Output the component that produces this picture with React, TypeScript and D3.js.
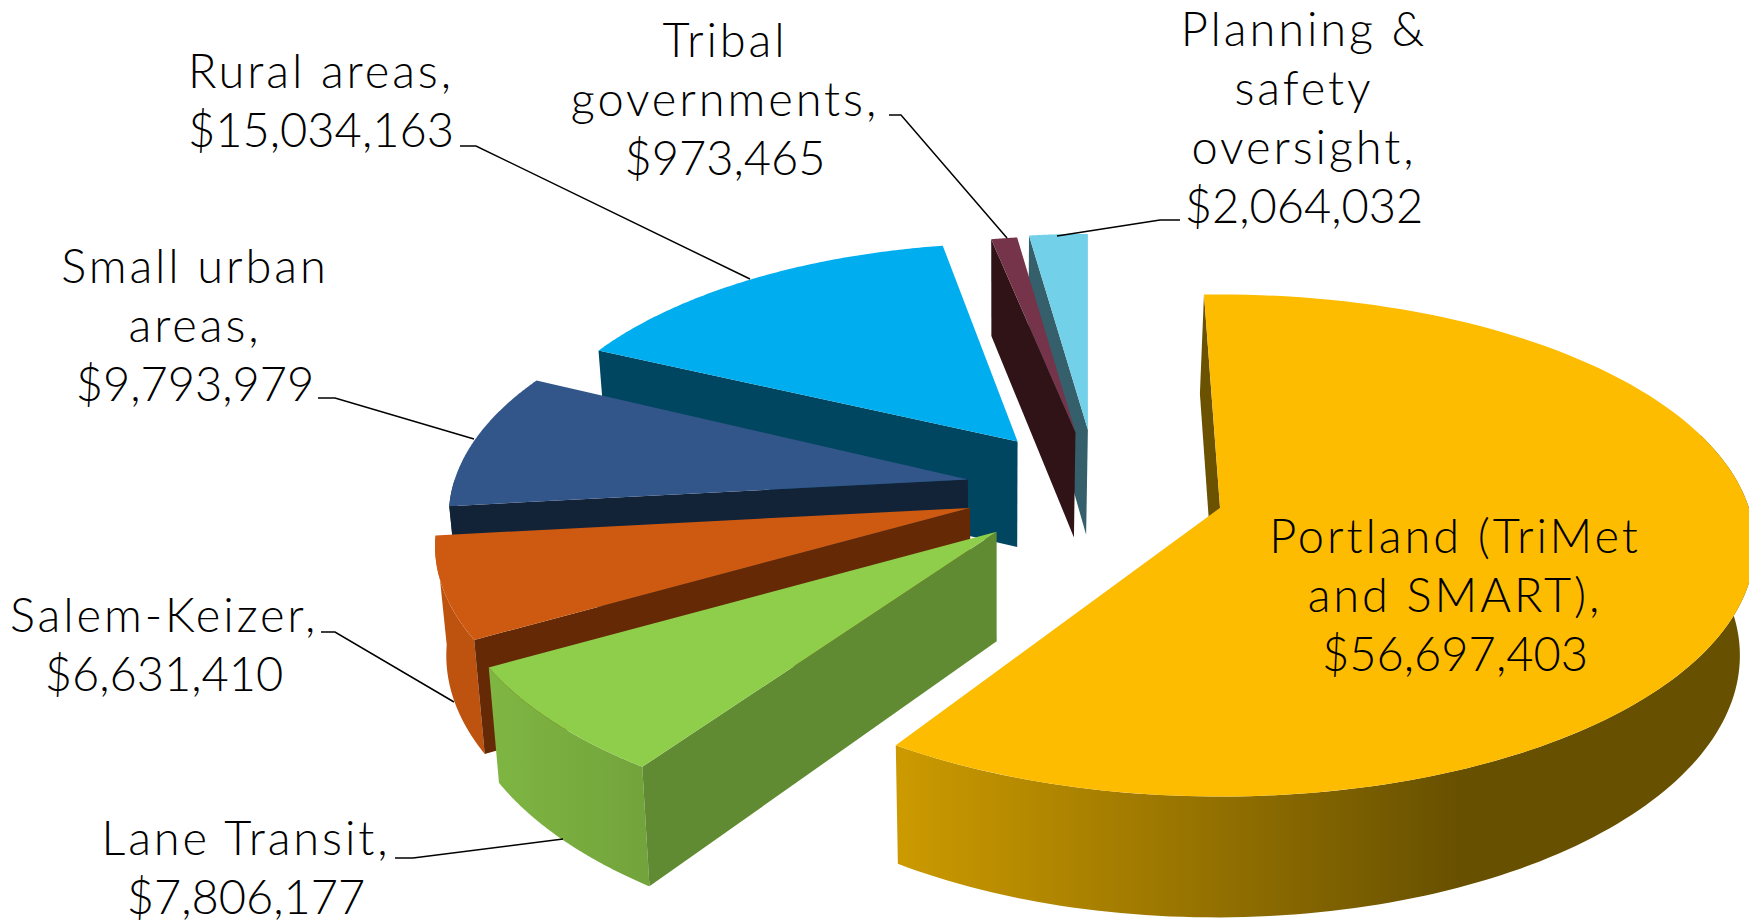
import React from "react";
import * as d3 from "d3";

const categories = ["Portland (TriMet and SMART)", "Lane Transit", "Salem-Keizer", "Small urban areas", "Rural areas", "Tribal governments", "Planning & safety oversight"];
const amounts = [56697403, 7806177, 6631410, 9793979, 15034163, 973465, 2064032];
const amountLabels = ["$56,697,403", "$7,806,177", "$6,631,410", "$9,793,979", "$15,034,163", "$973,465", "$2,064,032"];

const topColors = ["#FDBC00", "#8FCE4B", "#CE5A12", "#33568A", "#00AEEF", "#76344A", "#72D0E8"];
const radialWallColors = ["#6B5200", "#618B33", "#652A05", "#122338", "#004660", "#2F1316", "#355F6B"];
const arcWallColors = ["url(#amber)", "url(#green)", "#BE5310", "#122338", "#004660", "#2F1316", "#355F6B"];

// calibration of the 3D view: how far the perspective turns each slice's two edges (degrees, added to the pie angle)
const startShift = [-2, 8.8, 5.6, 5, 0.8, -0.4, -0.5];
const endShift = [6.2, 5.5, 5, 2, 1, -0.4, 0];
const apexNudgeX = [-1, -7, -3, -5, -8, -2, 0];
const apexNudgeY = [13, 0, 2, 5, 2, 2, 0];

// label layout: lines, centre x, first baseline
const labelLines = [
  ["Portland (TriMet", "and SMART),", "$56,697,403"],
  ["Lane Transit,", "$7,806,177"],
  ["Salem-Keizer,", "$6,631,410"],
  ["Small urban", "areas,", "$9,793,979"],
  ["Rural areas,", "$15,034,163"],
  ["Tribal", "governments,", "$973,465"],
  ["Planning &", "safety", "oversight,", "$2,064,032"],
];
const labelX = [1455, 246, 164, 195, 321, 725, 1304];
const labelY = [553, 855, 632, 283, 88, 57, 46];
const lineGap = 59;
const wordSpacing = 2.9;
const leaderPaths = [
  null,
  [[395, 858], [413, 858], [563, 839]],
  [[321, 632], [335, 632], [454, 702]],
  [[318, 398], [335, 398], [474, 439]],
  [[460, 146], [476, 146], [750, 279]],
  [[889, 115], [901, 115], [1007, 238]],
  [[1180, 220], [1160, 220], [1057, 236]],
];

const W = 1749, H = 924;
const CX = 1095, CY = 481, EX = 125, EY = 59, R = 529, TILT = 0.464, K = 0.15;
const DEG = Math.PI / 180;
const persp = (c: number) => 1 / (1 + K * c);
const sliceScale = d3.scaleLinear().domain([508, 1508]).range([1, 2.05]);
const wallH = d3.scaleLinear().domain([430, 800]).range([105, 121]);
const down = ([x, y]: number[]) => [x + (1000 - x) * 0.02, y + wallH(y)];
const path = d3.line();

export default function App() {
  const arcs = d3.pie<number>().sort(null).value((d) => d)(amounts);

  const slices = arcs.map((a, i) => {
    const mid = (a.startAngle + a.endAngle) / 2;
    const s = persp(Math.cos(mid));
    const ax = CX + EX * s * Math.sin(mid) + apexNudgeX[i];
    const ay = CY - EY * s * Math.cos(mid) + apexNudgeY[i];
    const scl = sliceScale(ay);
    const rim = (deg: number) => {
      const t = deg * DEG;
      const p = persp(Math.cos(t));
      return [ax + R * scl * p * Math.sin(t), ay - R * TILT * scl * p * Math.cos(t)];
    };
    const v0 = a.startAngle / DEG + startShift[i];
    const v1 = a.endAngle / DEG + endShift[i];
    const pts = d3.range(0, 121).map((n) => rim(v0 + ((v1 - v0) * n) / 120));
    const apex = [ax, ay];
    const top = path([apex, ...pts])! + "Z";
    const radial = path([pts[0], apex, down(apex), down(pts[0])])! + "Z";
    const lo = Math.max(v0, 72), hi = Math.min(v1, 270);
    let arcWall = "";
    if (hi > lo) {
      const front = d3.range(0, 121).map((n) => rim(lo + ((hi - lo) * n) / 120));
      arcWall = path([...front, ...front.slice().reverse().map(down)])! + "Z";
    }
    return { i, top, radial, arcWall };
  });
  const order = [6, 5, 4, 3, 2, 1, 0];

  return (
    <svg width={W} height={H} viewBox={`0 0 ${W} ${H}`} style={{ position: "fixed", left: 0, top: 0, background: "#fff" }}>
      <defs>
        <linearGradient id="amber" gradientUnits="userSpaceOnUse" x1="899" x2="1460" y1="0" y2="0">
          <stop offset="0" stopColor="#CC9A00" />
          <stop offset="1" stopColor="#675000" />
        </linearGradient>
        <linearGradient id="green" gradientUnits="userSpaceOnUse" x1="491" x2="649" y1="0" y2="0">
          <stop offset="0" stopColor="#7FB642" />
          <stop offset="1" stopColor="#72A33C" />
        </linearGradient>
      </defs>
      {order.map((k) => {
        const sl = slices[k];
        return (
          <g key={categories[k]}>
            {sl.arcWall && <path d={sl.arcWall} fill={arcWallColors[k]} />}
            <path d={sl.radial} fill={radialWallColors[k]} />
            <path d={sl.top} fill={topColors[k]} />
          </g>
        );
      })}
      {leaderPaths.map((p, i) =>
        p ? <path key={i} d={path(p as [number, number][])!} fill="none" stroke="#000" strokeWidth={1.5} /> : null
      )}
      <g fontFamily="Lato, 'Open Sans', sans-serif" fontWeight={300} fontSize={47} fill="#000" textAnchor="middle">
        {labelLines.map((lines, i) => (
          <text key={amountLabels[i]} x={labelX[i]} y={labelY[i]}>
            {lines.map((l, j) => (
              <tspan key={j} x={labelX[i]} dy={j === 0 ? 0 : lineGap} letterSpacing={l.startsWith("$") ? 0 : wordSpacing}>{l}</tspan>
            ))}
          </text>
        ))}
      </g>
    </svg>
  );
}
